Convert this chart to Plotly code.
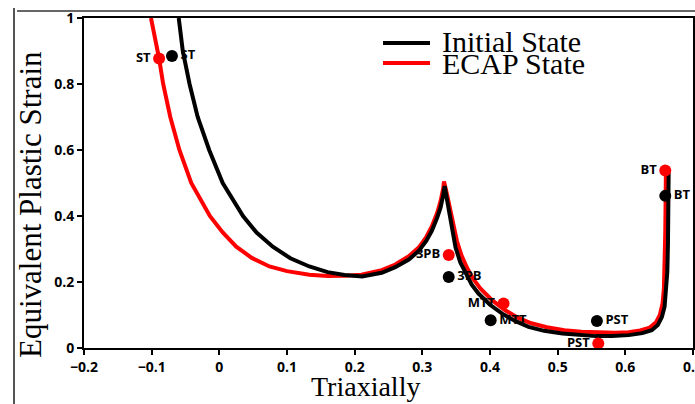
import plotly.graph_objects as go

# Initial State curve (black)
init_x = [-0.060, -0.054, -0.044, -0.032, -0.015, 0.005, 0.035, 0.055, 0.079, 0.105,
          0.133, 0.160, 0.185, 0.211, 0.240, 0.260, 0.280, 0.295, 0.306, 0.314,
          0.322, 0.327, 0.331, 0.333, 0.336, 0.339, 0.344, 0.349, 0.356, 0.364,
          0.373, 0.383, 0.400, 0.418, 0.437, 0.457, 0.480, 0.507, 0.530, 0.556,
          0.580, 0.605, 0.625, 0.639, 0.648, 0.654, 0.658, 0.660, 0.662, 0.663, 0.664]
init_y = [1.00, 0.90, 0.80, 0.70, 0.60, 0.50, 0.40, 0.35, 0.307, 0.272,
          0.247, 0.230, 0.221, 0.217, 0.228, 0.245, 0.268, 0.295, 0.325, 0.355,
          0.395, 0.426, 0.465, 0.491, 0.455, 0.416, 0.355, 0.305, 0.260, 0.225,
          0.192, 0.165, 0.131, 0.104, 0.082, 0.064, 0.052, 0.044, 0.039, 0.036,
          0.036, 0.039, 0.045, 0.054, 0.070, 0.094, 0.125, 0.165, 0.230, 0.315, 0.530]

# ECAP State curve (red)
ecap_x = [-0.101, -0.089, -0.083, -0.0725, -0.059, -0.0415, -0.014, 0.005, 0.025, 0.048,
          0.074, 0.100, 0.133, 0.160, 0.185, 0.210, 0.240, 0.260, 0.280, 0.295,
          0.306, 0.314, 0.322, 0.327, 0.331, 0.332, 0.336, 0.340, 0.345, 0.351,
          0.358, 0.366, 0.375, 0.386, 0.403, 0.422, 0.441, 0.461, 0.484, 0.510,
          0.535, 0.560, 0.585, 0.605, 0.622, 0.636, 0.645, 0.651, 0.655, 0.657,
          0.658, 0.659, 0.660]
ecap_y = [1.00, 0.877, 0.80, 0.70, 0.60, 0.50, 0.40, 0.35, 0.307, 0.273,
          0.247, 0.233, 0.222, 0.218, 0.219, 0.222, 0.236, 0.253, 0.278, 0.305,
          0.337, 0.368, 0.410, 0.445, 0.485, 0.505, 0.470, 0.430, 0.375, 0.325,
          0.280, 0.243, 0.210, 0.180, 0.145, 0.115, 0.092, 0.075, 0.063, 0.054,
          0.049, 0.046, 0.046, 0.048, 0.053, 0.062, 0.077, 0.100, 0.135, 0.180,
          0.250, 0.350, 0.538]

# Labelled stress states
pt_names = ["ST", "3PB", "MTT", "PST", "BT"]
init_pt_x = [-0.070, 0.339, 0.401, 0.558, 0.659]
init_pt_y = [0.885, 0.215, 0.084, 0.082, 0.461]
ecap_pt_x = [-0.089, 0.339, 0.420, 0.560, 0.659]
ecap_pt_y = [0.877, 0.282, 0.135, 0.014, 0.538]

x_ticks = [-0.2, -0.1, 0, 0.1, 0.2, 0.3, 0.4, 0.5, 0.6, 0.7]
x_tick_text = ["\u22120.2", "\u22120.1", "0", "0.1", "0.2", "0.3", "0.4", "0.5", "0.6", "0.7"]
y_ticks = [0, 0.2, 0.4, 0.6, 0.8, 1]
y_tick_text = ["0", "0.2", "0.4", "0.6", "0.8", "1"]

series_names = ["Initial State", "ECAP State"]
series_colors = ["#000000", "#ff0000"]

SERIF = "Liberation Serif, Times New Roman, serif"
SANS = "Open Sans, Noto Sans, sans-serif"
lbl_font = dict(family=SANS, size=13, color="#000000", weight="bold")

fig = go.Figure()
fig.add_trace(go.Scatter(x=ecap_x, y=ecap_y, mode="lines",
                         line=dict(color=series_colors[1], width=4),
                         showlegend=False, hoverinfo="skip"))
fig.add_trace(go.Scatter(x=init_x, y=init_y, mode="lines",
                         line=dict(color=series_colors[0], width=4),
                         showlegend=False, hoverinfo="skip"))
fig.add_trace(go.Scatter(x=ecap_pt_x, y=ecap_pt_y, mode="markers+text",
                         text=pt_names, textposition="middle left",
                         textfont=lbl_font,
                         marker=dict(color=series_colors[1], size=12),
                         showlegend=False))
fig.add_trace(go.Scatter(x=init_pt_x, y=init_pt_y, mode="markers+text",
                         text=pt_names, textposition="middle right",
                         textfont=lbl_font, cliponaxis=False,
                         marker=dict(color=series_colors[0], size=12),
                         showlegend=False))

W, H = 695, 404
L, R, T, B = 84, 2, 18, 56
pw, ph = W - L - R, H - T - B

def px(xp):
    return (xp - L) / pw

def py(yp):
    return (H - B - yp) / ph

shapes = []
# manual legend lines
for i, yy in enumerate([43, 63]):
    shapes.append(dict(type="line", xref="paper", yref="paper",
                       x0=px(383), x1=px(430), y0=py(yy), y1=py(yy),
                       line=dict(color=series_colors[i], width=4)))
# outer frame lines of the picture
shapes.append(dict(type="line", xref="paper", yref="paper",
                   x0=px(14), x1=px(14), y0=py(8), y1=py(404),
                   line=dict(color="#555555", width=2)))
shapes.append(dict(type="line", xref="paper", yref="paper",
                   x0=px(17), x1=px(695), y0=py(11), y1=py(11),
                   line=dict(color="#333333", width=1.5)))

annotations = []
for i, yy in enumerate([41, 63]):
    annotations.append(dict(text=series_names[i], xref="paper", yref="paper",
                            x=px(440), y=py(yy), xanchor="left", yanchor="middle",
                            showarrow=False,
                            font=dict(family=SERIF, size=30, color="#000000")))
annotations.append(dict(text="Equivalent Plastic Strain", xref="paper", yref="paper",
                        x=px(30), y=py(205), xanchor="center", yanchor="middle",
                        textangle=-90, showarrow=False,
                        font=dict(family=SERIF, size=31, color="#000000")))
annotations.append(dict(text="Triaxially", xref="paper", yref="paper",
                        x=px(365), y=py(386), xanchor="center", yanchor="middle",
                        showarrow=False,
                        font=dict(family=SERIF, size=28, color="#000000")))

fig.update_layout(
    width=W, height=H,
    margin=dict(l=L, r=R, t=T, b=B, pad=0),
    paper_bgcolor="white", plot_bgcolor="white",
    showlegend=False,
    shapes=shapes, annotations=annotations,
    xaxis=dict(range=[-0.2, 0.7], tickvals=x_ticks, ticktext=x_tick_text,
               showgrid=False, zeroline=False, showline=True, mirror=True,
               linecolor="#000000", linewidth=2, ticks="outside", ticklen=5,
               tickwidth=1.5, tickcolor="#000000", automargin=False,
               ticklabeloverflow="allow",
               tickfont=dict(family=SANS, size=14, color="#000000", weight="bold")),
    yaxis=dict(range=[0, 1], tickvals=y_ticks, ticktext=y_tick_text,
               showgrid=False, zeroline=False, showline=True, mirror=True,
               linecolor="#000000", linewidth=2, ticks="outside", ticklen=5,
               tickwidth=1.5, tickcolor="#000000", automargin=False,
               ticklabeloverflow="allow",
               tickfont=dict(family=SANS, size=14, color="#000000", weight="bold")),
)

fig.write_html("out.html",
               config={"displayModeBar": False},
               post_script="document.body.style.margin='0';"
                           "document.body.style.overflow='hidden';")
